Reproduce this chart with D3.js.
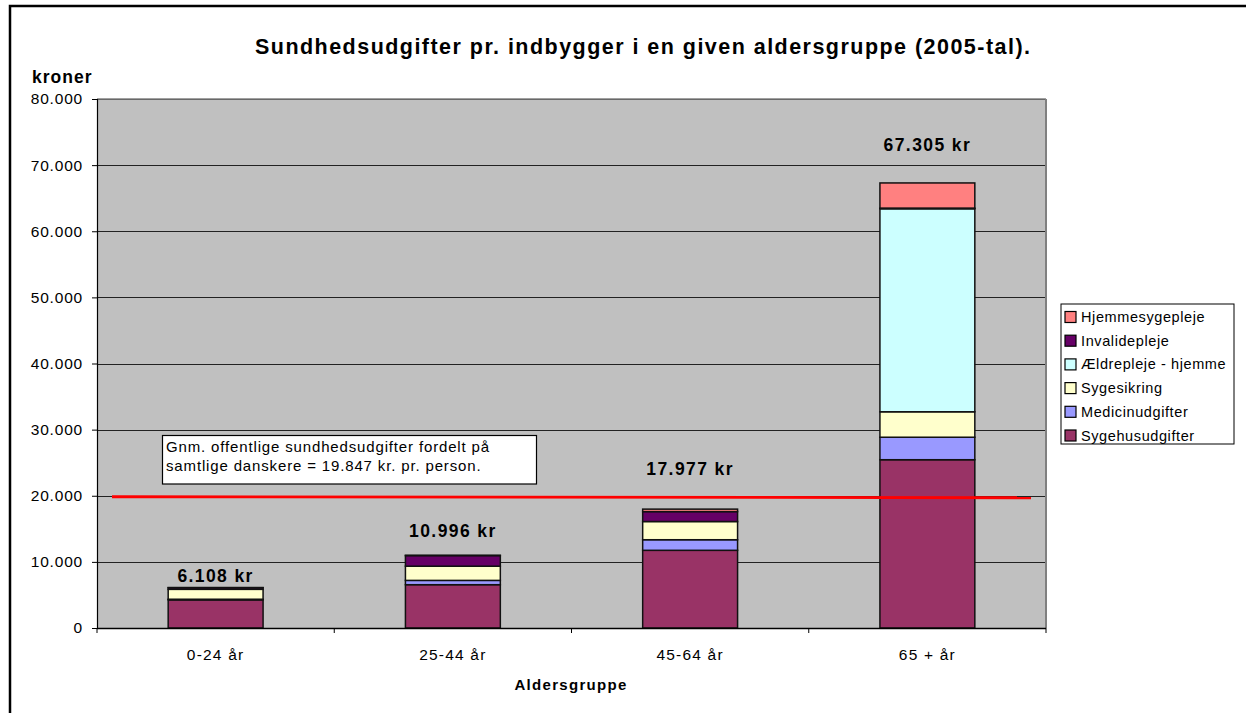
<!DOCTYPE html>
<html><head><meta charset="utf-8">
<script src="https://cdn.jsdelivr.net/npm/d3@7"></script>
<style>
html,body{margin:0;padding:0;background:#fff;}
svg{display:block;font-family:"Liberation Sans",Arial,sans-serif;}
</style></head><body>
<svg id="c" width="1246" height="713"></svg>
<script>
const categories = ["0-24 år", "25-44 år", "45-64 år", "65 + år"];
const seriesNames = ["Sygehusudgifter", "Medicinudgifter", "Sygesikring", "Ældrepleje - hjemme", "Invalidepleje", "Hjemmesygepleje"];
const sygehus     = [4250, 6550, 11750, 25450];
const medicin     = [100, 650, 1600, 3400];
const sygesikring = [1500, 2150, 2750, 3850];
const aeldrepleje = [0, 0, 0, 30700];
const invalide    = [250, 1600, 1500, 100];
const hjemmesyg   = [8, 46, 377, 3805];
const totals      = [6108, 10996, 17977, 67305];
const totalLabels = ["6.108 kr", "10.996 kr", "17.977 kr", "67.305 kr"];
const yTicks      = [0, 10000, 20000, 30000, 40000, 50000, 60000, 70000, 80000];
const yTickLabels = ["0", "10.000", "20.000", "30.000", "40.000", "50.000", "60.000", "70.000", "80.000"];
const averageValue = 19847;
const averageText = ["Gnm. offentlige sundhedsudgifter fordelt på", "samtlige danskere = 19.847 kr. pr. person."];
const colors = ["#993366", "#9999FF", "#FFFFCC", "#CCFFFF", "#660066", "#FF8080"];
const labelGap = [6, 18, 34, 32];

const seriesValues = [sygehus, medicin, sygesikring, aeldrepleje, invalide, hjemmesyg];
const rows = categories.map((c, i) => {
  const o = {cat: c};
  seriesNames.forEach((s, j) => o[s] = seriesValues[j][i]);
  return o;
});
const stacked = d3.stack().keys(seriesNames)(rows);

const svg = d3.select("#c");
const L = 97, R = 1046, T = 99, B = 628;

// outer frame
svg.append("rect").attr("x", 10).attr("y", 6).attr("width", 1260).attr("height", 720)
  .attr("fill", "none").attr("stroke", "#000").attr("stroke-width", 2.5);

const x = d3.scaleBand().domain(categories).range([L, R]).paddingInner(0.6).paddingOuter(0.3);
const y = d3.scaleLinear().domain([0, 80000]).range([B, T]);

// plot area
svg.append("rect").attr("x", L).attr("y", T).attr("width", R - L).attr("height", B - T)
  .attr("fill", "#C0C0C0");
// gridlines
svg.append("g").selectAll("line").data(yTicks.filter(d => d > 0)).join("line")
  .attr("x1", L).attr("x2", R).attr("y1", d => Math.round(y(d)) + 0.5).attr("y2", d => Math.round(y(d)) + 0.5)
  .attr("stroke", "#222").attr("stroke-width", 1);
// plot border (right/top gray)
svg.append("line").attr("x1", R).attr("x2", R).attr("y1", T).attr("y2", B).attr("stroke", "#808080").attr("stroke-width", 2);
svg.append("line").attr("x1", L).attr("x2", R).attr("y1", T).attr("y2", T).attr("stroke", "#808080").attr("stroke-width", 1.5);

// bars
svg.append("g").selectAll("g").data(stacked).join("g")
  .attr("fill", (d, i) => colors[i])
  .selectAll("rect").data(d => d.filter(s => s[1] - s[0] > 0)).join("rect")
  .attr("x", d => x(d.data.cat)).attr("width", x.bandwidth())
  .attr("y", d => y(d[1])).attr("height", d => y(d[0]) - y(d[1]))
  .attr("stroke", "#111").attr("stroke-width", 1.5);

// axes
const yAxis = d3.axisLeft(y).tickValues(yTicks).tickFormat((d, i) => yTickLabels[i]).tickSize(5).tickPadding(9);
const gy = svg.append("g").attr("transform", `translate(${L},0)`).call(yAxis);
gy.select(".domain").attr("stroke", "#000").attr("stroke-width", 1.2);
gy.selectAll(".tick line").attr("stroke", "#000");
gy.selectAll("text").attr("font-size", 15.5).attr("letter-spacing", "0.8px").attr("fill", "#000")
  .attr("font-family", "Liberation Sans, Arial, sans-serif");

const gx = svg.append("g").attr("transform", `translate(0,${B})`);
gx.append("line").attr("x1", L).attr("x2", R).attr("y1", 0.5).attr("y2", 0.5).attr("stroke", "#000").attr("stroke-width", 1.5);
gx.selectAll("line.tk").data([L, ...categories.slice(1).map(c => x(c) - (x.step() - x.bandwidth()) / 2), R]).join("line")
  .attr("class", "tk").attr("x1", d => d).attr("x2", d => d).attr("y1", 0).attr("y2", 5).attr("stroke", "#000");
gx.selectAll("text").data(categories).join("text")
  .attr("x", d => x(d) + x.bandwidth() / 2).attr("y", 32).attr("text-anchor", "middle")
  .attr("font-size", 15.5).attr("letter-spacing", "1.2px").text(d => d);

// total labels
svg.append("g").selectAll("text").data(totals).join("text")
  .attr("x", (d, i) => x(categories[i]) + x.bandwidth() / 2)
  .attr("y", (d, i) => y(d) - labelGap[i])
  .attr("text-anchor", "middle").attr("font-weight", "bold").attr("font-size", 17.5)
  .attr("letter-spacing", "1.4px").text((d, i) => totalLabels[i]);

// average line
svg.append("line").attr("x1", 112).attr("x2", 1031)
  .attr("y1", y(averageValue)).attr("y2", y(averageValue) + 1)
  .attr("stroke", "#FF0000").attr("stroke-width", 2.8);

// annotation box
svg.append("rect").attr("x", 162.5).attr("y", 435.5).attr("width", 374).attr("height", 48.5)
  .attr("fill", "#fff").attr("stroke", "#000").attr("stroke-width", 1.2);
svg.append("g").selectAll("text").data(averageText).join("text")
  .attr("x", 166).attr("y", (d, i) => 452 + i * 18.5).attr("font-size", 15).attr("letter-spacing", "0.85px")
  .text(d => d);

// title & axis titles
svg.append("text").attr("x", 255).attr("y", 54).attr("font-weight", "bold")
  .attr("font-size", 21.5).attr("textLength", 775).attr("lengthAdjust", "spacing")
  .text("Sundhedsudgifter pr. indbygger i en given aldersgruppe (2005-tal).");
svg.append("text").attr("x", 32).attr("y", 83).attr("font-weight", "bold").attr("font-size", 17.5)
  .attr("letter-spacing", "1px").text("kroner");
svg.append("text").attr("x", 571).attr("y", 690).attr("text-anchor", "middle").attr("font-weight", "bold")
  .attr("font-size", 15).attr("letter-spacing", "1.3px").text("Aldersgruppe");

// legend
const lg = svg.append("g");
lg.append("rect").attr("x", 1061).attr("y", 304).attr("width", 173).attr("height", 140)
  .attr("fill", "#fff").attr("stroke", "#000").attr("stroke-width", 1);
const legendOrder = seriesNames.map((s, i) => i).reverse();
const items = lg.selectAll("g.it").data(legendOrder).join("g").attr("class", "it")
  .attr("transform", (d, k) => `translate(1065,${317 + k * 23.7})`);
items.append("rect").attr("x", 0).attr("y", -5.5).attr("width", 11).attr("height", 11)
  .attr("fill", d => colors[d]).attr("stroke", "#000").attr("stroke-width", 1.2);
items.append("text").attr("x", 16).attr("y", 5).attr("font-size", 14.5).attr("letter-spacing", "0.6px")
  .text(d => seriesNames[d]);
</script>
</body></html>
